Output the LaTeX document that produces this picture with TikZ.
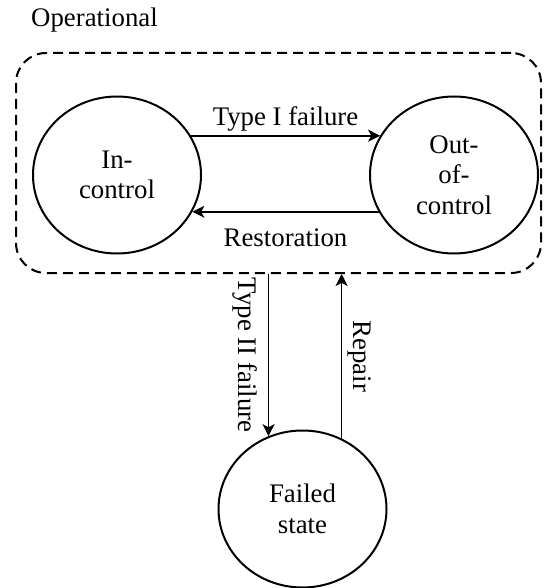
\documentclass[tikz,border=0pt]{standalone}
\usepackage{fontspec}
\setmainfont{Liberation Serif}
\usetikzlibrary{arrows.meta,shapes.geometric}

\begin{document}
\begin{tikzpicture}[x=0.5pt, y=-0.5pt, font=\fontsize{13.4}{15.3}\selectfont,
  state/.style={draw, ellipse, line width=1pt, minimum width=84pt, minimum height=78.5pt, inner sep=1pt, align=center},
  flow/.style={line width=0.85pt, >={Stealth[length=6pt, width=6pt, inset=1.6pt]}},
  lbl/.style={inner sep=2pt}]
\useasboundingbox (0,0) rectangle (543,588);
\node[draw, dash pattern=on 5pt off 3pt, line width=1pt, rounded corners=15pt, minimum width=262.5pt, minimum height=110pt] (op) at (278.5,163) {};
\node (optext) at (94.5,20) {Operational};
\node[state] (inc) at (117,175) {In-\\control};
\node[state] (out) at (454,175) {Out-\\of-\\control};
\node[state] (fail) at (302.5,509) {Failed\\state};
\draw[flow, ->] (inc.28) -- node[lbl, above] {Type I failure} (out.152);
\draw[flow, ->] (out.-154) -- node[lbl, below=6pt] {Restoration} (inc.-26);
\draw[flow, ->] (op.south -| fail.115) -- node[lbl, sloped, below=3pt] {Type II failure} (fail.115);
\draw[flow, <-] (op.south -| fail.61) -- node[lbl, sloped, above=0.5pt] {Repair} (fail.61);
\end{tikzpicture}
\end{document}
